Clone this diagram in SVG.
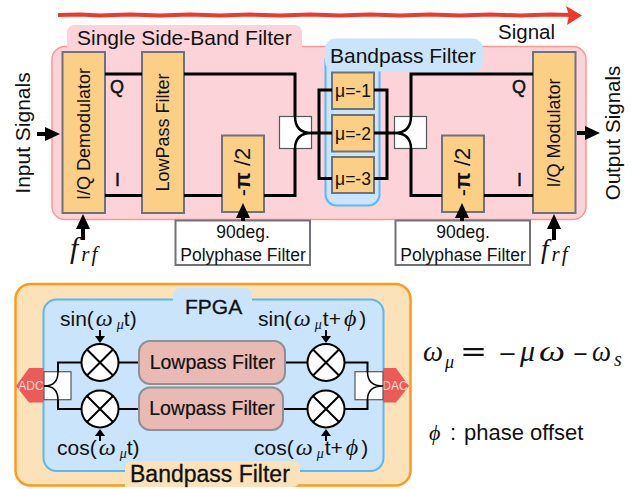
<svg xmlns="http://www.w3.org/2000/svg" width="633" height="489" viewBox="0 0 633 489">
<style>
text{font-family:"Liberation Sans",Arial,sans-serif;fill:#111;}
.math{font-family:"Liberation Serif","DejaVu Serif",serif;font-style:italic;}
.up{font-family:"DejaVu Serif","Liberation Serif",serif;font-style:normal;}
.block{fill:#fbcf85;stroke:#6f7278;stroke-width:2;}
.wire{fill:none;stroke:#000;stroke-width:3;}
.thin{fill:none;stroke:#000;stroke-width:2;}
.split{fill:#fff;stroke:#55585c;stroke-width:1.2;}
.curve{fill:none;stroke:#000;stroke-width:2.500;}
.curve2{fill:none;stroke:#000;stroke-width:1.500;}
.note{fill:#fff;stroke:#6f7278;stroke-width:2;}
.lp{fill:#e9b9b4;stroke:#8d9094;stroke-width:2;}
.mix{fill:#fff;stroke:#000;stroke-width:2;}
.conv{fill:#ec5b57;}
.convt{fill:#fbdcd8;font-size:12px;text-anchor:middle;}
.c{text-anchor:middle;}
.big{stroke:#000;stroke-width:4;fill:none;}
.lab{font-size:21px;}
.poly{font-size:17.500px;text-anchor:middle;}
.iq{font-size:18px;stroke:#111;stroke-width:0.500;}
.mu{font-size:17.500px;text-anchor:middle;}
.lpt{font-size:19.500px;text-anchor:middle;stroke:#111;stroke-width:0.200;}
.fn{font-size:21px;}
.om{font-size:24px;}
.sub{font-size:14px;}
</style>
<defs>
<marker id="head" markerUnits="userSpaceOnUse" markerWidth="15" markerHeight="15" refX="9" refY="7.500" orient="auto"><path d="M0,0.500 L15,7.500 L0,14.500 Z" fill="#000"/></marker>
<marker id="small" markerUnits="userSpaceOnUse" markerWidth="7" markerHeight="11" refX="3" refY="5.500" orient="auto"><path d="M0,0.500 L7,5.500 L0,10.500 Z" fill="#000"/></marker>
</defs>

<g id="signal-arrow">
<path d="M58,15 L80,14.400 L100,15.600 L130,14.500 L160,15.500 L190,14.400 L220,15.600 L250,14.500 L280,15.500 L310,14.400 L340,15.600 L370,14.500 L400,15.500 L430,14.400 L460,15.600 L490,14.500 L520,15.500 L550,14.500 L572,15" fill="none" stroke="#ee3a2c" stroke-width="4"/>
<path d="M566,6 L582,15.500 L567,25 L569,15 Z" fill="#f0382a"/>
<text x="498" y="39" font-size="20.500">Signal</text>
</g>

<g id="ssb-filter">
<rect x="52" y="46.500" width="534" height="173" rx="13" fill="#fbd3d8" stroke="#f79a94" stroke-width="1.500"/>
<path d="M67,48 V33 Q67,25 75,25 H294 Q302,25 302,33 V48 Z" fill="#fbd3d8"/>
<text class="lab" x="77" y="45">Single Side-Band Filter</text>
</g>

<g id="bandpass-group">
<rect x="325.500" y="50" width="54" height="155.500" rx="11" fill="#c9e4fb" stroke="#5ab8f5" stroke-width="2"/>
<rect x="325" y="38.500" width="158" height="33" rx="10" fill="#c9e4fb"/>
<text class="lab" x="330" y="63">Bandpass Filter</text>
</g>

<g id="bp-frame">
<rect x="15.500" y="284" width="395" height="201.500" rx="15" fill="#fbe2b8" stroke="#ff9a1a" stroke-width="2.500"/>
<rect x="43.500" y="299.500" width="340" height="171.500" rx="13" fill="#c9e4fb" stroke="#5ab8f5" stroke-width="2"/>
<path d="M173,302 V296 Q173,288 181,288 H244 Q252,288 252,296 V302 Z" fill="#c9e4fb"/>
<path d="M125,487 V469 Q125,461 133,461 H292 Q300,461 300,469 V478 Q300,487 292,487 Z" fill="#fbe2b8"/>
<text x="185" y="314" font-size="21" stroke="#111" stroke-width="0.300">FPGA</text>
<text x="130" y="482" font-size="23" stroke="#111" stroke-width="0.300">Bandpass Filter</text>
</g>

<g id="iq-demod"><rect class="block" x="62.500" y="52" width="42.500" height="161"/>
<text class="c" transform="translate(90,134) rotate(-90)" font-size="18">I/Q Demodulator</text></g>
<text class="iq" x="110" y="93">Q</text>
<text class="iq" x="115" y="186">I</text>
<g id="lowpass"><rect class="block" x="142" y="52" width="42" height="161"/>
<text class="c" transform="translate(169,132.500) rotate(-90)" font-size="18">LowPass Filter</text></g>
<g id="phase-left"><rect class="block" x="222" y="135.500" width="42" height="76.500"/>
<text class="c" transform="translate(250,172) rotate(-90)" font-size="22">-<tspan font-weight="bold">π</tspan> /2</text></g>

<g id="splitter-left"><rect class="split" x="279.500" y="116.500" width="32" height="32"/>
<path class="curve" d="M295,116 Q295,133 311.500,133 Q295,133 295,149"/></g>
<g id="mu1"><rect class="block" x="332" y="72.500" width="42" height="36.500"/><text class="mu" x="353" y="97">μ=-1</text></g>
<g id="mu2"><rect class="block" x="332" y="115" width="42" height="36.500"/><text class="mu" x="353" y="139.500">μ=-2</text></g>
<g id="mu3"><rect class="block" x="332" y="157" width="42" height="36"/><text class="mu" x="353" y="185">μ=-3</text></g>
<g id="splitter-right"><rect class="split" x="394.500" y="116.500" width="32" height="32"/>
<path class="curve" d="M411,116 Q411,133 394.500,133 Q411,133 411,149"/></g>

<g id="phase-right"><rect class="block" x="442" y="135.500" width="42" height="76.500"/>
<text class="c" transform="translate(470,172) rotate(-90)" font-size="22">-<tspan font-weight="bold">π</tspan> /2</text></g>
<text class="iq" x="512" y="93">Q</text>
<text class="iq" x="517" y="186">I</text>
<g id="iq-mod"><rect class="block" x="533" y="52" width="42.500" height="161"/>
<text class="c" transform="translate(560,133) rotate(-90)" font-size="18">I/Q Modulator</text></g>

<text class="c" transform="translate(30,133) rotate(-90)" font-size="21">Input Signals</text>
<text class="c" transform="translate(620,133) rotate(-90)" font-size="20.500">Output Signals</text>
<text class="math" x="70" y="258" font-size="30">f<tspan font-size="21" dy="3" dx="3">r</tspan><tspan font-size="21" dx="2">f</tspan></text>
<text class="math" x="541" y="258" font-size="27">f<tspan font-size="21" dy="3" dx="3">r</tspan><tspan font-size="21" dx="2">f</tspan></text>

<g id="poly-left"><rect class="note" x="175.500" y="220.500" width="134.500" height="44.500"/>
<text class="poly" x="243" y="238">90deg.</text><text class="poly" x="243" y="261">Polyphase Filter</text></g>
<g id="poly-right"><rect class="note" x="395.500" y="220.500" width="134.500" height="44.500"/>
<text class="poly" x="463" y="238">90deg.</text><text class="poly" x="463" y="261">Polyphase Filter</text></g>

<g id="adc"><path class="conv" d="M16,386 L29,368 H43.500 V402.500 H29 Z"/><text class="convt" x="31" y="390">ADC</text></g>
<g id="split-adc"><rect class="split" x="44" y="371.700" width="27" height="28"/>
<path class="curve2" d="M58,372 Q58,386 44,386 Q58,386 58,400"/></g>
<g id="dac"><path class="conv" d="M383,368 H396 L409,386 L396,402.500 H383 Z"/><text class="convt" x="395" y="390">DAC</text></g>
<g id="split-dac"><rect class="split" x="355" y="371.700" width="28" height="28"/>
<path class="curve2" d="M367.500,372 Q367.500,386 383,386 Q367.500,386 367.500,400"/></g>

<g id="connectors">
<path class="wire" d="M105,74 H142 M184,74 H295 V116"/>
<path class="wire" d="M105,195.500 H142 M184,195.500 H222 M264,195.500 H295 V149"/>
<path class="wire" d="M332,90 H319 V178.500 H332"/>
<path class="wire" d="M374,90 H387 V178.500 H374"/>
<path class="wire" d="M411,116 V74 H533"/>
<path class="wire" d="M411,149 V195.500 H442 M484,195.500 H533"/>
<path class="wire" d="M311,133 H332 M374,133 H395"/>
<path class="thin" d="M58,372 V362.500 H81 M58,400 V409 H81 M119,362.500 H139 M119,409 H139"/>
<path class="thin" d="M285,362.500 H307 M283,409 H307 M345,362.500 H367.500 V372 M345,409 H367.500 V400"/>
<path class="big" d="M37,134 H54" marker-end="url(#head)"/>
<path class="big" d="M83,240 V220" marker-end="url(#head)"/>
<path class="big" d="M243,221 V209" marker-end="url(#head)"/>
<path class="big" d="M462,221 V209" marker-end="url(#head)"/>
<path class="big" d="M554,240 V220" marker-end="url(#head)"/>
<path class="big" d="M577,133 H594" marker-end="url(#head)"/>
<path class="thin" d="M100,330 V339" marker-end="url(#small)"/>
<path class="thin" d="M100,441 V433" marker-end="url(#small)"/>
<path class="thin" d="M326,330 V339" marker-end="url(#small)"/>
<path class="thin" d="M326,441 V433" marker-end="url(#small)"/>
</g>

<g id="mixer-1"><circle class="mix" cx="100" cy="362.500" r="18.500"/><path class="mix" d="M87,349.500 L113,375.500 M113,349.500 L87,375.500"/></g>
<g id="mixer-2"><circle class="mix" cx="100" cy="409" r="18.500"/><path class="mix" d="M87,396 L113,422 M113,396 L87,422"/></g>
<g id="mixer-3"><circle class="mix" cx="326" cy="362.500" r="18.500"/><path class="mix" d="M313,349.500 L339,375.500 M339,349.500 L313,375.500"/></g>
<g id="mixer-4"><circle class="mix" cx="326" cy="409" r="18.500"/><path class="mix" d="M313,396 L339,422 M339,396 L313,422"/></g>

<g id="lp-1"><rect class="lp" x="139" y="341" width="146" height="43" rx="11"/><text class="lpt" x="212.500" y="369">Lowpass Filter</text></g>
<g id="lp-2"><rect class="lp" x="139" y="387.500" width="144" height="42.500" rx="11"/><text class="lpt" x="212" y="415">Lowpass Filter</text></g>

<text class="fn" x="60" y="326">sin(<tspan class="math om" dx="2">ω</tspan><tspan class="math sub" dx="4" dy="3">μ</tspan><tspan dy="-3">t)</tspan></text>
<text class="fn" x="57" y="455">cos(<tspan class="math om" dx="2">ω</tspan><tspan class="math sub" dx="4" dy="3">μ</tspan><tspan dy="-3">t)</tspan></text>
<text class="fn" x="258" y="326">sin(<tspan class="math om" dx="2">ω</tspan><tspan class="math sub" dx="4" dy="3">μ</tspan><tspan dy="-3" dx="1">t+</tspan><tspan class="math om" dx="3">ϕ</tspan><tspan dx="3">)</tspan></text>
<text class="fn" x="254" y="455">cos(<tspan class="math om" dx="2">ω</tspan><tspan class="math sub" dx="4" dy="3">μ</tspan><tspan dy="-3" dx="1">t+</tspan><tspan class="math om" dx="3">ϕ</tspan><tspan dx="3">)</tspan></text>

<g id="formula">
<text class="math" font-size="30" x="423" y="361" textLength="20" lengthAdjust="spacingAndGlyphs">ω</text>
<text class="math" font-size="18" x="445" y="368">μ</text>
<text class="math up" font-size="27" x="460" y="361" textLength="27" lengthAdjust="spacingAndGlyphs">=</text>
<text class="math up" font-size="22" x="498" y="361" textLength="19" lengthAdjust="spacingAndGlyphs">−</text>
<text class="math" font-size="30" x="520" y="361">μ</text>
<text class="math" font-size="30" x="539" y="361" textLength="26" lengthAdjust="spacingAndGlyphs">ω</text>
<text class="math up" font-size="22" x="572.500" y="361" textLength="16" lengthAdjust="spacingAndGlyphs">−</text>
<text class="math" font-size="30" x="592" y="361" textLength="19" lengthAdjust="spacingAndGlyphs">ω</text>
<text class="math" font-size="20" x="614" y="366">s</text>
</g>
<text x="429" y="440" font-size="22"><tspan class="math">ϕ</tspan><tspan x="450">:</tspan><tspan x="464">phase offset</tspan></text>
</svg>
